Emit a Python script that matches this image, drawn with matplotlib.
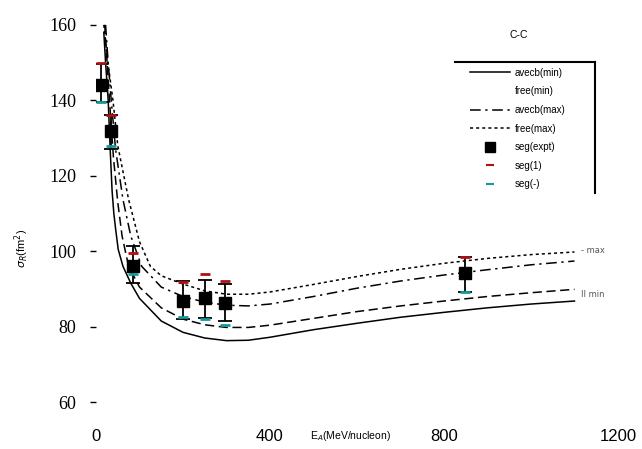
import matplotlib
matplotlib.use("Agg")
import matplotlib.pyplot as plt
from matplotlib.lines import Line2D

# ---- data ----
E_amin = [18, 22, 28, 33, 37, 41, 45, 51, 62, 80, 100, 150, 200, 250, 300, 350, 400, 500, 600, 700, 800, 900, 1000, 1100]
s_amin = [158, 150, 140, 126, 116, 110, 106, 100.5, 96, 91.5, 87.5, 81.5, 78.5, 77, 76.3, 76.4, 77.2, 79.2, 80.9, 82.5, 83.8, 85, 86, 86.8]

E_fmin = [20, 25, 31, 40, 50, 60, 75, 100, 150, 200, 250, 300, 350, 400, 500, 600, 700, 800, 900, 1000, 1100]
s_fmin = [160, 151, 140, 125, 113, 104, 96, 90.5, 85, 82, 80.5, 79.8, 79.8, 80.4, 82.2, 84, 85.5, 86.8, 88, 89, 89.9]

E_amax = [22, 28, 35, 45, 62, 80, 105, 150, 200, 250, 300, 350, 400, 500, 600, 700, 800, 900, 1000, 1100]
s_amax = [160, 150, 140, 127, 113.7, 104, 96, 90.5, 88, 86.5, 85.7, 85.5, 86, 88, 90.2, 92.1, 93.7, 95.1, 96.4, 97.4]

E_fmax = [18, 25, 39, 50, 75, 100, 125, 150, 200, 250, 300, 350, 400, 500, 600, 700, 800, 900, 1000, 1100]
s_fmax = [160, 152, 140, 128, 113.7, 102.5, 96, 93.5, 91.3, 89.5, 88.6, 88.6, 89.2, 91.2, 93.3, 95.2, 96.8, 98.1, 99.1, 99.8]

E_exp = [11, 34, 85, 200, 250, 297, 848]
s_exp = [144, 132, 96, 86.8, 87.5, 86.2, 94.1]
err_lo = [4.5, 5.0, 4.3, 4.8, 5.3, 4.7, 4.9]
err_hi = [5.5, 4.2, 5.5, 5.2, 5.0, 5.2, 4.5]
s_seg1 = [149.8, 136, 99.4, 91.9, 93.9, 92.2, 98.6]
s_seg2 = [139.5, 128, 93.9, 82.5, 82.0, 80.4, 89.2]

xticks = [0, 400, 800, 1200]
yticks = [60, 80, 100, 120, 140, 160]

W, H = 642, 449
fig = plt.figure(figsize=(W / 100, H / 100), dpi=100)
ax = fig.add_axes([96 / W, 1 - 421 / H, (618 - 96) / W, (421 - 6) / H])

lw = 1.1
l1, = ax.plot(E_amin, s_amin, color='black', lw=lw, ls='-')
l2, = ax.plot(E_fmin, s_fmin, color='black', lw=lw, ls=(0, (6, 3)))
l3, = ax.plot(E_amax, s_amax, color='black', lw=lw, ls=(0, (7, 3, 1.5, 3)))
l4, = ax.plot(E_fmax, s_fmax, color='black', lw=lw, ls=(0, (2, 2)))

yerr = [err_lo, err_hi]
ax.errorbar(E_exp, s_exp, yerr=yerr, fmt='none', ecolor='black', elinewidth=1.3, capsize=5, capthick=1.3)
ax.plot(E_exp, s_exp, 's', color='black', ms=9)
ax.plot(E_exp, s_seg1, '_', color='#b01010', ms=7, mew=2)
ax.plot(E_exp, s_seg2, '_', color='#139a9a', ms=7, mew=2)

ax.set_xlim(0, 1200)
ax.set_ylim(55, 165)
for sp in ax.spines.values():
    sp.set_visible(False)
ax.set_xticks(xticks)
ax.set_yticks(yticks)
ax.tick_params(axis='x', length=0, pad=6, labelsize=12)
ax.tick_params(axis='y', length=4, width=1, pad=10, labelsize=13)
for lab in ax.get_xticklabels():
    lab.set_family('Liberation Sans')
for lab in ax.get_yticklabels():
    lab.set_family('Liberation Serif')

ax.text(585, -0.036, r'E$_A$(MeV/nucleon)', transform=ax.get_xaxis_transform(),
        ha='center', va='center', fontsize=7.5, family='Liberation Sans')
fig.text(22 / W, 1 - 248 / H, r'$\sigma_R$(fm$^2$)', rotation=90, ha='center', va='center',
         fontsize=8, family='Liberation Sans')

ax.text(1115, 100.3, '- max', fontsize=6, color='#555555', va='center', clip_on=False)
ax.text(1115, 88.5, 'II min', fontsize=6, color='#555555', va='center', clip_on=False)

fig.text(519 / W, 1 - 35 / H, 'C-C', ha='center', va='center', fontsize=7.5, family='Liberation Sans')

handles = [l1, Line2D([], [], ls='none'), l3, l4,
           Line2D([], [], ls='none', marker='s', color='black', ms=7),
           Line2D([], [], ls='none', marker='_', color='#b01010', ms=6, mew=1.5),
           Line2D([], [], ls='none', marker='_', color='#139a9a', ms=6, mew=1.5)]
labels = ['avecb(min)', 'free(min)', 'avecb(max)', 'free(max)', 'seg(expt)', 'seg(1)', 'seg(-)']
leg = ax.legend(handles, labels, loc='upper left', bbox_to_anchor=(466 / W, 1 - 64 / H),
                bbox_transform=fig.transFigure, frameon=False, fontsize=7,
                handlelength=4.1, handletextpad=0.5, labelspacing=0.88, borderaxespad=0)
for t in leg.get_texts():
    t.set_family('Liberation Sans')

fig.add_artist(Line2D([455 / W, 595 / W], [1 - 62 / H, 1 - 62 / H], transform=fig.transFigure, color='black', lw=1.5))
fig.add_artist(Line2D([595 / W, 595 / W], [1 - 62 / H, 1 - 193 / H], transform=fig.transFigure, color='black', lw=1.5))

fig.savefig('out.png', dpi=100)
